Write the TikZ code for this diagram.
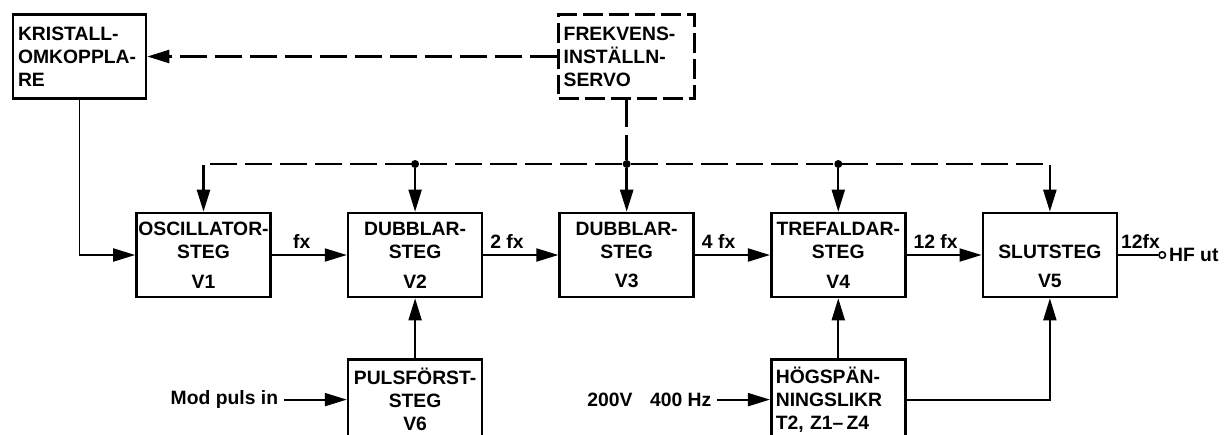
\documentclass[tikz,border=0pt]{standalone}
\usepackage{fontspec}
\setmainfont{Liberation Sans}
\usetikzlibrary{arrows.meta,positioning}

\begin{document}
\begin{tikzpicture}[x=0.02cm,y=-0.02cm,
  font=\fontsize{11}{13}\selectfont\bfseries,
  >={Triangle[length=4.4mm,width=2.6mm]},
  stage/.style={draw,line width=1.5pt,minimum width=2.68cm,minimum height=1.68cm,inner sep=0.3mm,align=center},
  ctrl/.style={draw,line width=1.5pt,text width=2.46cm,minimum height=1.68cm,inner xsep=1mm,align=left},
  feed/.style={draw,line width=1.5pt,text width=2.5cm,minimum height=1.6cm,inner xsep=0.9mm,align=left},
  ar/.style={->,line width=1.1pt},
  dsh/.style={dash pattern=on 5.4mm off 1.6mm,line width=1.4pt},
  dot/.style={circle,fill,inner sep=0pt,minimum size=1.6mm},
  port/.style={circle,draw,line width=0.9pt,inner sep=0pt,minimum size=1.3mm},
  lbl/.style={inner sep=1.2mm}]
\useasboundingbox (0,0) rectangle (1227,434);
\clip (0,0) rectangle (1227,434);
% --- crystal switch and main chain V1..V5 ---
\node[ctrl] (krist) at (79.5,56.5) {KRISTALL-\\OMKOPPLA-\\RE};
\node[stage] (osc) at (203.5,255) {OSCILLATOR-\\STEG\\[4pt]V1};
\node[stage,right=1.5cm of osc] (dbl1) {DUBBLAR-\\STEG\\[4pt]V2};
\node[stage,right=1.5cm of dbl1] (dbl2) {DUBBLAR-\\STEG\\[4pt]V3};
\node[stage,right=1.5cm of dbl2] (tre) {TREFALDAR-\\STEG\\[4pt]V4};
\node[stage,right=1.5cm of tre] (slut) {\vphantom{D}\\SLUTSTEG\\[4pt]V5};
\node[ctrl,text width=2.52cm,dash pattern=on 4mm off 1.2mm] (servo) at (dbl2 |- krist)
  {FREKVENS-\\INSTÄLLN-\\SERVO};
% --- supplies below ---
\node[stage,minimum height=1.6cm,below=1.2cm of dbl1] (puls) {PULSFÖRST-\\STEG\\V6};
\node[feed,below=1.2cm of tre] (hsp) {HÖGSPÄN-\\NINGSLIKR\\T2, Z1–\,Z4};
\node[left=1.25cm of puls] (modin) {Mod puls in};
\node[left=1.05cm of hsp] (mains) {200V\hspace{0.35cm}400 Hz};
% --- output ---
\node[port,right=0.8cm of slut] (hf) {};
\node[right=0pt of hf,inner sep=0.5mm] (hfo) {HF ut};
% --- tuning bus (dashed) ---
\coordinate (bus) at (0,164);
\node[dot] (j2) at (dbl1 |- bus) {};
\node[dot] (j3) at (dbl2 |- bus) {};
\node[dot] (j4) at (tre |- bus) {};
\draw[dsh,ar,line width=1.4pt] (servo) -- (krist);
\draw[dsh] (servo) -- (j3);
\draw[dsh,ar,line width=1.4pt] (j3) -- (dbl2);
\draw[dsh,ar,line width=1.4pt] (j3) -| (osc);
\draw[dsh,ar,line width=1.4pt] (j3) -| (slut);
\draw[ar] (j2) -- (dbl1);
\draw[ar] (j4) -- (tre);
% --- signal path ---
\draw[ar] (krist) |- (osc);
\draw[ar] (osc) -- node[lbl,above,pos=0.4] {fx} (dbl1);
\draw[ar] (dbl1) -- node[lbl,above right,pos=0] {2 fx} (dbl2);
\draw[ar] (dbl2) -- node[lbl,above right,pos=0] {4 fx} (tre);
\draw[ar] (tre) -- node[lbl,above right,pos=0] {12 fx} (slut);
\draw[line width=1.1pt] (slut) -- node[lbl,above right,pos=0,inner xsep=0.4mm] {12fx} (hf);
\draw[ar] (modin) -- (puls);
\draw[ar] (puls) -- (dbl1);
\draw[ar] (mains) -- (hsp);
\draw[ar] (hsp) -- (tre);
\draw[ar] (hsp.east) -| (slut);
\end{tikzpicture}
\end{document}
